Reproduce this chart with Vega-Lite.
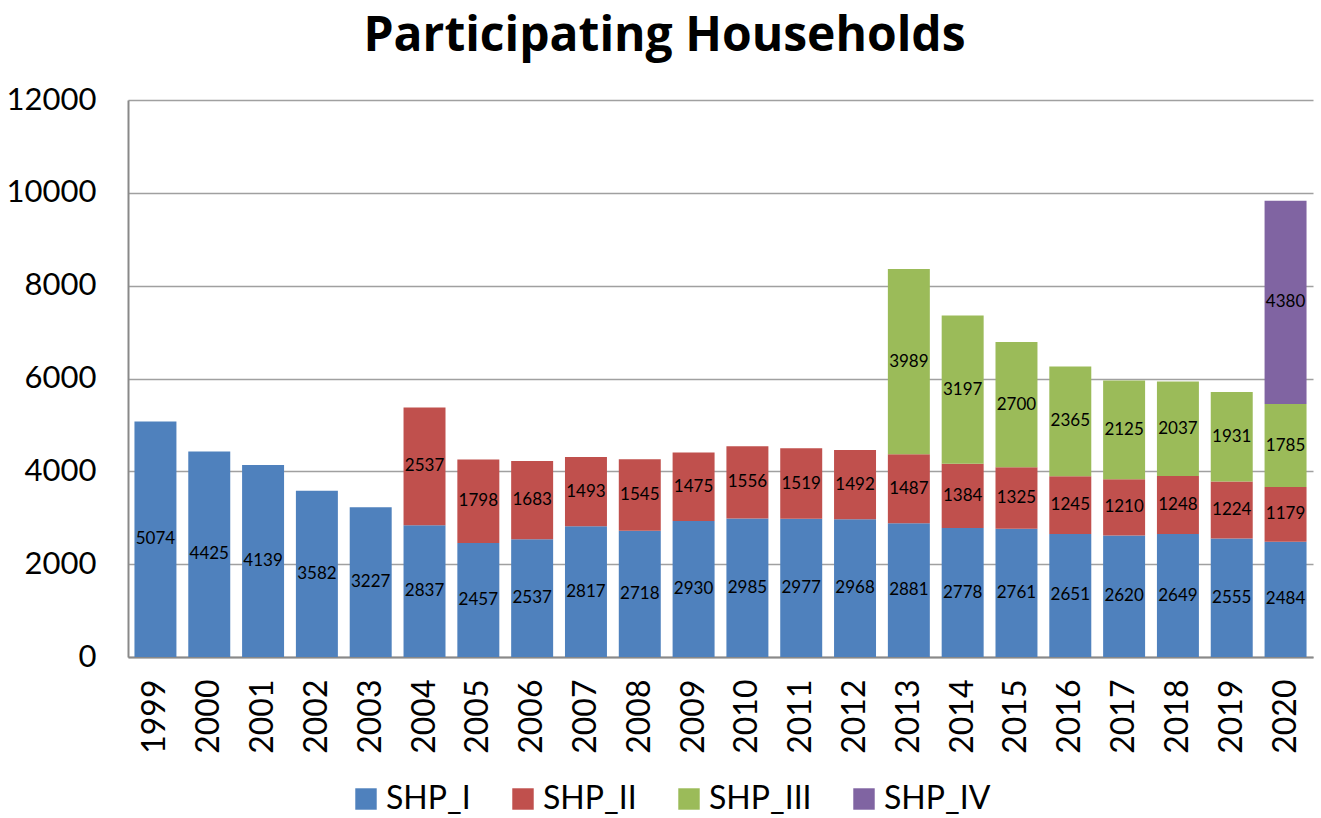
{
  "$schema": "https://vega.github.io/schema/vega-lite/v6.json",
  "autosize": {"type": "none"},
  "width": 1185,
  "height": 557,
  "padding": {"left": 128, "top": 100, "right": 8, "bottom": 161},
  "background": "white",
  "title": {
    "text": "Participating Households",
    "font": "Open Sans",
    "fontSize": 48,
    "fontWeight": "bold",
    "color": "black",
    "anchor": "middle",
    "dx": -56,
    "offset": 23
  },
  "data": {
    "values": [
      {"year": "1999", "series": "SHP_I", "value": 5074},
      {"year": "2000", "series": "SHP_I", "value": 4425},
      {"year": "2001", "series": "SHP_I", "value": 4139},
      {"year": "2002", "series": "SHP_I", "value": 3582},
      {"year": "2003", "series": "SHP_I", "value": 3227},
      {"year": "2004", "series": "SHP_I", "value": 2837},
      {"year": "2005", "series": "SHP_I", "value": 2457},
      {"year": "2006", "series": "SHP_I", "value": 2537},
      {"year": "2007", "series": "SHP_I", "value": 2817},
      {"year": "2008", "series": "SHP_I", "value": 2718},
      {"year": "2009", "series": "SHP_I", "value": 2930},
      {"year": "2010", "series": "SHP_I", "value": 2985},
      {"year": "2011", "series": "SHP_I", "value": 2977},
      {"year": "2012", "series": "SHP_I", "value": 2968},
      {"year": "2013", "series": "SHP_I", "value": 2881},
      {"year": "2014", "series": "SHP_I", "value": 2778},
      {"year": "2015", "series": "SHP_I", "value": 2761},
      {"year": "2016", "series": "SHP_I", "value": 2651},
      {"year": "2017", "series": "SHP_I", "value": 2620},
      {"year": "2018", "series": "SHP_I", "value": 2649},
      {"year": "2019", "series": "SHP_I", "value": 2555},
      {"year": "2020", "series": "SHP_I", "value": 2484},
      {"year": "2004", "series": "SHP_II", "value": 2537},
      {"year": "2005", "series": "SHP_II", "value": 1798},
      {"year": "2006", "series": "SHP_II", "value": 1683},
      {"year": "2007", "series": "SHP_II", "value": 1493},
      {"year": "2008", "series": "SHP_II", "value": 1545},
      {"year": "2009", "series": "SHP_II", "value": 1475},
      {"year": "2010", "series": "SHP_II", "value": 1556},
      {"year": "2011", "series": "SHP_II", "value": 1519},
      {"year": "2012", "series": "SHP_II", "value": 1492},
      {"year": "2013", "series": "SHP_II", "value": 1487},
      {"year": "2014", "series": "SHP_II", "value": 1384},
      {"year": "2015", "series": "SHP_II", "value": 1325},
      {"year": "2016", "series": "SHP_II", "value": 1245},
      {"year": "2017", "series": "SHP_II", "value": 1210},
      {"year": "2018", "series": "SHP_II", "value": 1248},
      {"year": "2019", "series": "SHP_II", "value": 1224},
      {"year": "2020", "series": "SHP_II", "value": 1179},
      {"year": "2013", "series": "SHP_III", "value": 3989},
      {"year": "2014", "series": "SHP_III", "value": 3197},
      {"year": "2015", "series": "SHP_III", "value": 2700},
      {"year": "2016", "series": "SHP_III", "value": 2365},
      {"year": "2017", "series": "SHP_III", "value": 2125},
      {"year": "2018", "series": "SHP_III", "value": 2037},
      {"year": "2019", "series": "SHP_III", "value": 1931},
      {"year": "2020", "series": "SHP_III", "value": 1785},
      {"year": "2020", "series": "SHP_IV", "value": 4380}
    ]
  },
  "transform": [
    {
      "stack": "value",
      "groupby": ["year"],
      "sort": [{"field": "series", "order": "ascending"}],
      "as": ["v0", "v1"]
    },
    {"calculate": "(datum.v0 + datum.v1) / 2", "as": "vmid"}
  ],
  "encoding": {
    "x": {
      "field": "year",
      "type": "nominal",
      "title": null,
      "scale": {"paddingInner": 0.22, "paddingOuter": 0.12},
      "axis": {
        "labelAngle": -90,
        "labelAlign": "right",
        "labelBaseline": "middle",
        "labelFont": "Lato",
        "labelFontSize": 32,
        "labelColor": "black",
        "labelPadding": 22,
        "ticks": false,
        "domainColor": "#898989",
        "domainWidth": 2
      }
    }
  },
  "layer": [
    {
      "mark": {"type": "bar"},
      "encoding": {
        "y": {
          "field": "v0",
          "type": "quantitative",
          "title": null,
          "scale": {"domain": [0, 12000]},
          "axis": {
            "values": [0, 2000, 4000, 6000, 8000, 10000, 12000],
            "format": "d",
            "labelFont": "Lato",
            "labelFontSize": 31,
            "labelColor": "black",
            "labelPadding": 32,
            "ticks": false,
            "gridColor": "#a0a0a0",
            "gridWidth": 1.5,
            "domainColor": "#898989",
            "domainWidth": 2
          }
        },
        "y2": {"field": "v1"},
        "color": {
          "field": "series",
          "type": "nominal",
          "scale": {
            "domain": ["SHP_I", "SHP_II", "SHP_III", "SHP_IV"],
            "range": ["#4f81bd", "#c0504d", "#9bbb59", "#8064a2"]
          },
          "legend": {
            "title": null,
            "orient": "none",
            "direction": "horizontal",
            "legendX": 222,
            "legendY": 683,
            "symbolType": "square",
            "symbolSize": 460,
            "symbolStrokeWidth": 0,
            "labelFont": "Lato",
            "labelFontSize": 32,
            "labelColor": "black",
            "labelOffset": 4,
            "columnPadding": 36
          }
        }
      }
    },
    {
      "mark": {"type": "text", "font": "Lato", "fontSize": 17, "color": "black", "baseline": "middle"},
      "encoding": {
        "y": {"field": "vmid", "type": "quantitative"},
        "text": {"field": "value", "type": "quantitative", "format": "d"}
      }
    }
  ],
  "config": {
    "view": {"stroke": null},
    "axis": {"grid": false},
    "axisY": {"grid": true}
  }
}
